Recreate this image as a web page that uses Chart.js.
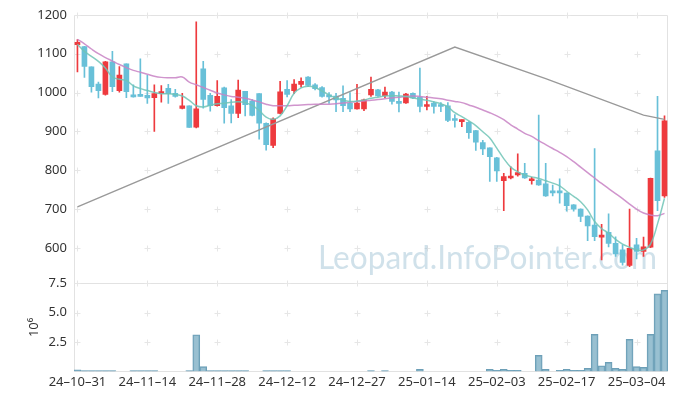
<!DOCTYPE html>
<html lang="ko">
<head>
<meta charset="UTF-8">
<title>Leopard 일봉</title>
<script src="https://cdn.jsdelivr.net/npm/chart.js"></script>
<style>
  body { margin: 0; background: #fff; }
  .wrap { position: relative; width: 677px; height: 400px; }
</style>
</head>
<body>
<div class="wrap"><canvas id="chart"></canvas></div>
<script>
// trading days (KRX), 24-10-31 .. 25-03-10
const dates = [
  '24-10-31','24-11-01','24-11-04','24-11-05','24-11-06','24-11-07','24-11-08','24-11-11','24-11-12','24-11-13',
  '24-11-14','24-11-15','24-11-18','24-11-19','24-11-20','24-11-21','24-11-22','24-11-25','24-11-26','24-11-27',
  '24-11-28','24-11-29','24-12-02','24-12-03','24-12-04','24-12-05','24-12-06','24-12-09','24-12-10','24-12-11',
  '24-12-12','24-12-13','24-12-16','24-12-17','24-12-18','24-12-19','24-12-20','24-12-23','24-12-24','24-12-26',
  '24-12-27','24-12-30','25-01-02','25-01-03','25-01-06','25-01-07','25-01-08','25-01-09','25-01-10','25-01-13',
  '25-01-14','25-01-15','25-01-16','25-01-17','25-01-20','25-01-21','25-01-22','25-01-23','25-01-24','25-01-31',
  '25-02-03','25-02-04','25-02-05','25-02-06','25-02-07','25-02-10','25-02-11','25-02-12','25-02-13','25-02-14',
  '25-02-17','25-02-18','25-02-19','25-02-20','25-02-21','25-02-24','25-02-25','25-02-26','25-02-27','25-02-28',
  '25-03-04','25-03-05','25-03-06','25-03-07','25-03-10'
];
const open = [
  1123,1118,1066,1022,995,1079,1005,1074,993,993, 993,987,997,1011,998,959,966,911,1061,993,
  966,1012,966,946,1003,978,997,921,864,946, 1008,1005,1021,1040,1020,1013,991,991,985,972,
  958,958,994,1007,992,1001,975,973,998,988, 964,973,966,966,930,925,923,902,871,858,
  832,773,780,788,792,773,775,765,745,745, 741,711,700,682,659,628,640,612,595,555,
  608,591,602,850,734
];
const high = [
  1136,1119,1066,1027,1080,1106,1067,1074,1020,1087, 1044,1020,1018,1021,1008,998,966,1182,1080,998,
  1031,1014,982,1032,1003,982,997,922,935,1029, 1031,1033,1038,1041,1023,1015,1000,998,1017,1000,
  1021,983,1040,1008,1014,1003,1001,998,999,1063, 990,977,974,974,943,930,925,903,877,858,
  833,792,809,842,818,782,942,818,762,778, 742,712,701,683,856,661,688,629,608,700,
  625,628,780,990,940
];
const low = [
  1053,1039,1001,986,993,1002,1001,987,988,990, 972,900,975,972,988,958,910,909,960,952,
  965,921,922,935,940,940,880,852,858,945, 989,997,1014,1015,1007,988,972,951,951,951,
  957,953,990,990,987,970,950,972,984,950, 955,947,951,925,911,912,882,851,840,771,
  771,696,778,785,779,764,761,733,734,715, 695,695,668,619,619,569,603,578,556,552,
  572,578,601,696,730
];
const close = [
  1129,1067,1015,1005,1079,1015,1045,1002,989,990, 986,997,1002,997,990,966,910,958,982,966,
  990,961,946,1006,969,941,921,866,932,1002, 995,1022,1029,1018,1010,990,989,981,966,958,
  973,981,1008,991,1001,977,972,996,986,964, 968,964,964,928,928,930,897,872,855,835,
  798,784,785,794,780,776,762,734,742,742, 709,700,681,657,629,631,612,585,563,599,
  591,603,779,722,927
];
// short moving average (teal)
const maShort = [
  1124,1106,1093,1080,1063,1040,1034,1031,1017,1010, 1005,1000,997,997,995,991,980,966,963,967,
  971,972,975,976,974,967,954,937,931,940, 966,998,1012,1016,1013,1004,994,986,980,977,
  978,981,985,988,991,992,991,990,986,983, 980,976,971,963,948,938,927,915,899,883,
  857,830,808,796,788,783,779,773,767,760, 746,733,719,698,668,650,638,622,610,602,
  595,595,610,662,728
];
// mid moving average (pink)
const maMid = [
  1137,1125,1112,1100,1090,1081,1072,1064,1057,1052, 1047,1042,1039,1038,1038,1040,1027,1020,1013,1006,
  999,994,990,988,985,981,976,970,966,966, 966,967,968,969,970,970,970,971,973,975,
  977,978,980,982,984,986,988,990,991,990, 988,986,984,980,977,974,968,962,955,948,
  940,930,917,906,895,887,876,866,856,846, 835,822,808,794,780,766,753,740,727,713,
  700,690,685,683,689
];
// long line (gray), only its vertices
const longIdx = [0, 54, 67, 81, 84];
const longVal = [706, 1117, 1036, 942, 931];
// volume, 10^6 shares
const volume = [
  0.14,0.06,0.06,0.06,0.06,0.06,0,0,0.06,0.06, 0.06,0.06,0,0,0,0,0.06,3.12,0.4,0.06,
  0.06,0.06,0.06,0.06,0.06,0,0,0.06,0.06,0.06, 0.06,0,0,0,0,0,0,0,0,0,
  0,0,0.06,0,0.06,0,0,0,0,0.17, 0,0,0,0,0,0,0,0,0,0.17,
  0.085,0.17,0.085,0.085,0,0,1.36,0.17,0,0.085, 0.17,0.085,0.085,0.26,3.15,0.48,0.77,0.26,0.17,2.73,
  0.4,0.34,3.15,6.6,6.9
];
const priceTicks = [600, 700, 800, 900, 1000, 1100, 1200];
const volumeTicks = [2.5, 5.0, 7.5];

const upColor = '#ee3a3e';
const downColor = '#68c0d8';
const candleColor = c => close[c.dataIndex] >= open[c.dataIndex] ? upColor : downColor;

Chart.defaults.font.family = '"Noto Sans", sans-serif';
Chart.defaults.font.size = 13;
Chart.defaults.color = '#333';

// frame, grid crosses and watermark
const frame = {
  id: 'frame',
  beforeDatasetsDraw(chart) {
    const { ctx, chartArea: a, scales } = chart;
    const { x, y, v } = scales;
    ctx.save();
    ctx.strokeStyle = '#e2e2e2';
    ctx.lineWidth = 1;
    ctx.beginPath();
    ctx.rect(Math.round(a.left) + 0.5, Math.round(a.top) + 0.5, Math.round(a.width) - 1, Math.round(a.height) - 1);
    ctx.moveTo(a.left, Math.round(v.top) + 0.5);
    ctx.lineTo(a.right, Math.round(v.top) + 0.5);
    ctx.stroke();

    ctx.strokeStyle = '#e6e6e6';
    ctx.beginPath();
    const ys = y.ticks.map(t => y.getPixelForValue(t.value))
      .concat(v.ticks.map(t => v.getPixelForValue(t.value)));
    x.ticks.forEach(t => {
      const px = Math.round(x.getPixelForValue(t.value)) + 0.5;
      ys.forEach(py => {
        py = Math.round(py) + 0.5;
        ctx.moveTo(px - 3, py); ctx.lineTo(px + 3, py);
        ctx.moveTo(px, py - 3); ctx.lineTo(px, py + 3);
      });
    });
    ctx.stroke();

    const text = 'Leopard.InfoPointer.com';
    ctx.font = '33px Lato';
    const w = ctx.measureText(text).width;
    const target = 339;
    ctx.translate(a.right - 11 - target, y.bottom - 14);
    ctx.scale(target / w, 1);
    ctx.fillStyle = 'rgba(150, 188, 208, 0.45)';
    ctx.textBaseline = 'alphabetic';
    ctx.fillText(text, 0, 0);
    ctx.restore();
  }
};

new Chart(document.getElementById('chart'), {
  data: {
    labels: dates,
    datasets: [
      { type: 'line', label: 'MA short', data: maShort, yAxisID: 'y', order: 0,
        borderColor: 'rgba(112, 196, 182, 0.85)', borderWidth: 1.5, pointRadius: 0, tension: 0.4 },
      { type: 'line', label: 'MA mid', data: maMid, yAxisID: 'y', order: 0,
        borderColor: 'rgba(200, 130, 196, 0.85)', borderWidth: 1.5, pointRadius: 0, tension: 0.4 },
      { type: 'line', label: 'MA long', data: longIdx.map((k, j) => ({ x: dates[k], y: longVal[j] })), yAxisID: 'y', order: 0,
        borderColor: '#999', borderWidth: 1.3, pointRadius: 0, tension: 0 },
      { type: 'bar', label: 'body', data: dates.map((d, i) => [open[i], close[i]]), yAxisID: 'y', order: 1,
        backgroundColor: candleColor, barThickness: 5, minBarLength: 2, grouped: false },
      { type: 'bar', label: 'wick', data: dates.map((d, i) => [low[i], high[i]]), yAxisID: 'y', order: 2,
        backgroundColor: candleColor, barThickness: 1, grouped: false },
      { type: 'bar', label: 'volume', data: volume, yAxisID: 'v', order: 3,
        backgroundColor: 'rgba(128, 176, 198, 0.8)', borderColor: '#6d9fb7', borderWidth: 1,
        barPercentage: 1, categoryPercentage: 1, grouped: false }
    ]
  },
  options: {
    responsive: true,
    maintainAspectRatio: false,
    animation: false,
    layout: { padding: { left: 22, right: 9, top: 7, bottom: 7 } },
    plugins: { legend: { display: false }, tooltip: { enabled: false } },
    scales: {
      x: {
        type: 'category', offset: true,
        grid: { display: false, drawTicks: false }, border: { display: false },
        afterBuildTicks: s => { s.ticks = s.ticks.filter(t => t.value % 10 === 0); },
        ticks: {
          autoSkip: false, maxRotation: 0, padding: 3,
          callback: function (val) { return this.getLabelForValue(val).replace(/-/g, '–'); }
        }
      },
      v: {
        position: 'left', stack: 'panel', stackWeight: 1,
        min: 0, max: 7.5,
        grid: { display: false, drawTicks: false }, border: { display: false },
        afterBuildTicks: s => { s.ticks = volumeTicks.map(value => ({ value })); },
        ticks: { padding: 7, callback: val => val.toFixed(1) },
        title: { display: true, text: '10⁶', padding: { top: 4, bottom: 0 } }
      },
      y: {
        position: 'left', stack: 'panel', stackWeight: 3.05,
        min: 509, max: 1200,
        grid: { display: false, drawTicks: false }, border: { display: false },
        afterBuildTicks: s => { s.ticks = priceTicks.map(value => ({ value })); },
        ticks: { padding: 7, callback: val => String(val) }
      }
    }
  },
  plugins: [frame]
});
</script>
</body>
</html>
